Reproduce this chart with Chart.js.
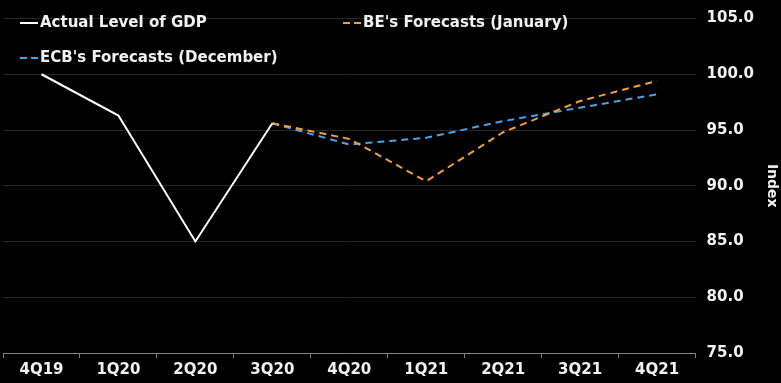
<!DOCTYPE html>
<html>
<head>
<meta charset="utf-8">
<script src="https://cdn.jsdelivr.net/npm/chart.js@4/dist/chart.umd.min.js"></script>
<style>
  html, body { margin: 0; padding: 0; background: #000; }
  #wrap { width: 781px; height: 383px; position: relative; }
</style>
</head>
<body>
<div id="wrap"><canvas id="c" width="781" height="383"></canvas></div>
<script>
const categories = ['4Q19', '1Q20', '2Q20', '3Q20', '4Q20', '1Q21', '2Q21', '3Q21', '4Q21'];
const actualGDP = [100.0, 96.3, 85.0, 95.6, null, null, null, null, null];
const beForecast = [null, null, null, 95.6, 94.2, 90.4, 94.8, 97.6, 99.4];
const ecbForecast = [null, null, null, 95.6, 93.7, 94.3, 95.8, 97.0, 98.2];
const seriesNames = ['Actual Level of GDP', "BE's Forecasts (January)", "ECB's Forecasts (December)"];
const yMin = 75, yMax = 105, yStep = 5;
const yTitle = 'Index';

const FONT = 'DejaVu Sans';
const TXT = '#f2f2f2';

const legendPlugin = {
  id: 'customLegend',
  afterDraw(chart) {
    const ctx = chart.ctx;
    const pos = [
      { x: 20, y: 23 },
      { x: 343, y: 23 },
      { x: 20, y: 58 }
    ];
    ctx.save();
    ctx.font = 'bold 15px "' + FONT + '"';
    ctx.textBaseline = 'middle';
    chart.data.datasets.forEach((ds, i) => {
      const p = pos[i];
      ctx.strokeStyle = ds.borderColor;
      ctx.lineWidth = 2;
      ctx.setLineDash(ds.borderDash && ds.borderDash.length ? [7, 4] : []);
      ctx.beginPath();
      ctx.moveTo(p.x, p.y);
      ctx.lineTo(p.x + 18, p.y);
      ctx.stroke();
      ctx.setLineDash([]);
      ctx.fillStyle = TXT;
      ctx.fillText(ds.label, p.x + 20, p.y);
    });
    ctx.restore();
  }
};

new Chart(document.getElementById('c'), {
  type: 'line',
  data: {
    labels: categories,
    datasets: [
      { label: seriesNames[0], data: actualGDP, borderColor: '#ffffff', borderWidth: 2, pointRadius: 0, tension: 0, spanGaps: false },
      { label: seriesNames[1], data: beForecast, borderColor: '#f5a033', borderWidth: 2, borderDash: [7, 5], pointRadius: 0, tension: 0 },
      { label: seriesNames[2], data: ecbForecast, borderColor: '#4ba3e6', borderWidth: 2, borderDash: [7, 5], pointRadius: 0, tension: 0 }
    ]
  },
  options: {
    responsive: false,
    animation: false,
    layout: { padding: { left: 3, right: 2, top: 11, bottom: 1 } },
    plugins: { legend: { display: false }, tooltip: { enabled: false } },
    scales: {
      x: {
        offset: true,
        grid: { offset: true, drawOnChartArea: false, drawTicks: true, tickLength: 5, color: '#808080', lineWidth: 1 },
        border: { display: true, color: '#808080', width: 1 },
        ticks: { color: TXT, font: { family: FONT, size: 15, weight: 'bold' }, padding: 3, maxRotation: 0, autoSkip: false }
      },
      y: {
        position: 'right',
        min: yMin, max: yMax,
        ticks: { stepSize: yStep, color: TXT, font: { family: FONT, size: 15, weight: 'bold', lineHeight: 1 }, padding: 11, callback: v => v.toFixed(1) },
        grid: { color: '#262626', drawTicks: false, lineWidth: 1 },
        border: { display: false },
        title: { display: true, text: yTitle, color: TXT, font: { family: FONT, size: 14, weight: 'bold', lineHeight: 1 }, padding: { top: 0, bottom: 0 } }
      }
    }
  },
  plugins: [legendPlugin, {
    id: 'bg',
    beforeDraw(chart) {
      const ctx = chart.ctx;
      ctx.save();
      ctx.fillStyle = '#000';
      ctx.fillRect(0, 0, chart.width, chart.height);
      ctx.restore();
    }
  }]
});
</script>
</body>
</html>
